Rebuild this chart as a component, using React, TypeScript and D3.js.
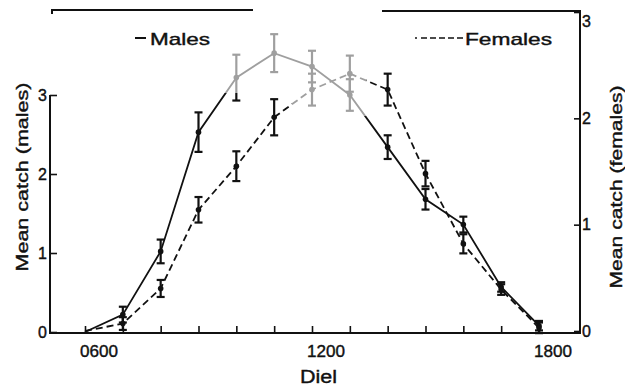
import React, { useEffect, useRef } from 'react';
import * as d3 from 'd3';

// sampling hours (0600 .. 1800)
const hours = [6, 7, 8, 9, 10, 11, 12, 13, 14, 15, 16, 17, 18];
// mean catch
const males = [0, 0.22, 1.02, 2.53, 3.22, 3.53, 3.36, 3.0, 2.34, 1.68, 1.36, 0.57, 0.08];
const malesSE = [0, 0.1, 0.15, 0.25, 0.29, 0.24, 0.2, 0.2, 0.15, 0.13, 0.1, 0.06, 0.06];
const females = [0, 0.07, 0.4, 1.14, 1.55, 2.01, 2.27, 2.42, 2.27, 1.48, 0.82, 0.39, 0.03];
const femalesSE = [0, 0.06, 0.08, 0.12, 0.14, 0.17, 0.15, 0.17, 0.15, 0.12, 0.09, 0.05, 0.05];
// tick labels
const hourLabels = ['0600', '1200', '1800'];
const labelHours = [6, 12, 18];
const catchTicks = [0, 1, 2, 3];

const FONT = '"Liberation Sans", Arial, Helvetica, sans-serif';
const INK = '#111';

export default function App() {
  const ref = useRef<SVGSVGElement>(null);

  useEffect(() => {
    const svg = d3.select(ref.current);
    svg.selectAll('*').remove();

    const x = d3.scaleLinear().domain([6, 18]).range([85, 539]);
    const yM = d3.scaleLinear().domain([0, 3]).range([332, 95]);
    const yF = d3.scaleLinear().domain([0, 3]).range([331, 12]);

    const g = svg.append('g').attr('font-family', FONT).attr('fill', INK);

    // frame lines (the scan shows a gap in the top line)
    const frame = g.append('g').attr('stroke', INK).attr('stroke-width', 2).attr('fill', 'none');
    frame.append('line').attr('x1', 49).attr('x2', 581).attr('y1', 333).attr('y2', 333);
    frame.append('line').attr('x1', 50).attr('x2', 50).attr('y1', 95).attr('y2', 334);
    frame.append('line').attr('x1', 580).attr('x2', 580).attr('y1', 10).attr('y2', 334);
    frame.append('path').attr('d', 'M52,14V10H253');
    frame.append('line').attr('x1', 382).attr('x2', 581).attr('y1', 11).attr('y2', 11);

    // x axis ticks (inward)
    const xAxis = d3.axisBottom(x).tickValues(hours).tickSizeInner(-7).tickSizeOuter(0).tickFormat(() => '');
    const xg = g.append('g').attr('transform', 'translate(0,333)').call(xAxis);
    xg.select('.domain').remove();
    xg.selectAll('line').attr('stroke', INK).attr('stroke-width', 1.6);

    const textStyle = (sel: any) => sel.attr('stroke', INK).attr('stroke-width', 0.4);

    g.selectAll('text.xlab')
      .data(labelHours)
      .join('text')
      .attr('class', 'xlab')
      .attr('x', (d) => x(d) - 5)
      .attr('y', 357)
      .attr('font-size', 17)
      .attr('textLength', 38)
      .attr('lengthAdjust', 'spacingAndGlyphs')
      .call(textStyle)
      .text((_, i) => hourLabels[i]);

    // left axis (males)
    const yl = g.append('g').attr('transform', 'translate(50,0)')
      .call(d3.axisLeft(yM).tickValues(catchTicks).tickSizeInner(-7).tickSizeOuter(0).tickPadding(3).tickFormat(d3.format('d')));
    yl.select('.domain').remove();
    yl.selectAll('line').attr('stroke', INK).attr('stroke-width', 1.6);
    yl.selectAll('text').attr('font-size', 16).attr('font-family', FONT).attr('fill', INK).call(textStyle);

    // right axis (females)
    const yr = g.append('g').attr('transform', 'translate(580,0)')
      .call(d3.axisRight(yF).tickValues(catchTicks).tickSizeInner(-6).tickSizeOuter(0).tickPadding(2).tickFormat(d3.format('d')));
    yr.select('.domain').remove();
    yr.selectAll('line').attr('stroke', INK).attr('stroke-width', 1.6);
    yr.selectAll('text').attr('font-size', 16).attr('font-family', FONT).attr('fill', INK).call(textStyle);
    yr.selectAll('.tick').filter((d) => d === 3).select('text').attr('dy', '0.9em');

    // axis titles
    g.append('text')
      .attr('transform', 'translate(28,177) rotate(-90)')
      .attr('text-anchor', 'middle')
      .attr('font-size', 17)
      .attr('textLength', 189)
      .attr('lengthAdjust', 'spacingAndGlyphs')
      .call(textStyle)
      .text('Mean catch (males)');
    g.append('text')
      .attr('transform', 'translate(622,187) rotate(-90)')
      .attr('text-anchor', 'middle')
      .attr('font-size', 17)
      .attr('textLength', 203)
      .attr('lengthAdjust', 'spacingAndGlyphs')
      .call(textStyle)
      .text('Mean catch (females)');
    g.append('text')
      .attr('x', 300)
      .attr('y', 383)
      .attr('font-size', 18)
      .attr('textLength', 37)
      .attr('lengthAdjust', 'spacingAndGlyphs')
      .call(textStyle)
      .text('Diel');

    // series
    const series = [
      { values: males, se: malesSE, y: yM, dash: null },
      { values: females, se: femalesSE, y: yF, dash: '7,4' },
    ];
    const data = g.append('g');
    series.forEach((s) => {
      const line = d3.line<number>().x((_, i) => x(hours[i])).y((d) => s.y(d));
      data.append('path')
        .attr('d', line(s.values))
        .attr('fill', 'none')
        .attr('stroke', INK)
        .attr('stroke-width', 1.8)
        .attr('stroke-dasharray', s.dash);

      const pts = s.values.map((v, i) => ({ h: hours[i], v, e: s.se[i] })).filter((p) => p.h > 6);
      const bars = data.append('g').attr('stroke', INK).attr('stroke-width', 2.2);
      pts.forEach((p) => {
        const cx = x(p.h);
        const top = s.y(p.v + p.e);
        const bot = s.y(p.v - p.e);
        bars.append('line').attr('x1', cx).attr('x2', cx).attr('y1', top).attr('y2', bot);
        bars.append('line').attr('x1', cx - 4).attr('x2', cx + 4).attr('y1', top).attr('y2', top);
        bars.append('line').attr('x1', cx - 4).attr('x2', cx + 4).attr('y1', bot).attr('y2', bot);
      });
      data.append('g').selectAll('circle')
        .data(pts)
        .join('circle')
        .attr('cx', (p) => x(p.h))
        .attr('cy', (p) => s.y(p.v))
        .attr('r', 2.8)
        .attr('fill', INK);
    });

    // faded patch of the original print around the peak
    g.append('path')
      .attr('d', 'M224,24H366V116H292V93H224Z')
      .attr('fill', '#fff')
      .attr('fill-opacity', 0.6);

    // legend
    g.append('line').attr('x1', 135).attr('x2', 146).attr('y1', 38).attr('y2', 38)
      .attr('stroke', INK).attr('stroke-width', 2);
    g.append('text').attr('x', 150).attr('y', 45).attr('font-size', 17)
      .attr('textLength', 60).attr('lengthAdjust', 'spacingAndGlyphs').call(textStyle).text('Males');
    g.append('circle').attr('cx', 416).attr('cy', 38).attr('r', 1).attr('fill', INK);
    g.append('line').attr('x1', 421).attr('x2', 463).attr('y1', 38).attr('y2', 38)
      .attr('stroke', INK).attr('stroke-width', 1.6).attr('stroke-dasharray', '6,3');
    g.append('text').attr('x', 465).attr('y', 45).attr('font-size', 17)
      .attr('textLength', 87).attr('lengthAdjust', 'spacingAndGlyphs').call(textStyle).text('Females');
  }, []);

  return (
    <svg
      ref={ref}
      width={625}
      height={389}
      style={{ position: 'absolute', left: 0, top: 0, background: '#fff' }}
    />
  );
}
